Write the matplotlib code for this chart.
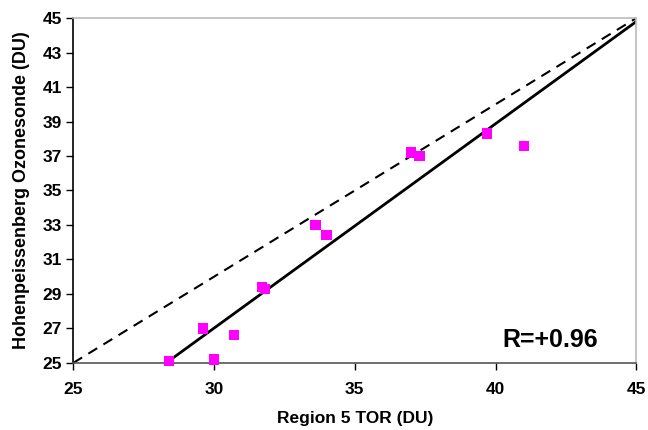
import numpy as np
import matplotlib.pyplot as plt

plt.rcParams['font.family'] = ['Liberation Sans', 'DejaVu Sans']
plt.rcParams['font.weight'] = 'bold'

# Region 5 TOR vs Hohenpeissenberg ozonesonde (DU)
tor = [28.4, 29.6, 30.0, 30.7, 31.7, 31.8, 33.6, 34.0, 37.0, 37.3, 39.7, 41.0]
sonde = [25.1, 27.0, 25.2, 26.6, 29.4, 29.3, 33.0, 32.4, 37.2, 37.0, 38.3, 37.6]

# regression line endpoints
fit_x = [28.3, 45.0]
fit_y = [25.0, 44.8]
one_to_one = [25, 45]

fig = plt.figure(figsize=(6.48, 4.30), dpi=100)
ax = fig.add_axes([0.113, 0.156, 0.869, 0.802])

ax.plot(one_to_one, one_to_one, color='black', lw=1.5, ls=(0, (5, 3.5)), zorder=2)
ax.plot(fit_x, fit_y, color='black', lw=2.0, zorder=2)
ax.scatter(tor, sonde, marker='s', s=55, color='#ff00ff', edgecolors='none', zorder=3, clip_on=False)

ax.set_xlim(25, 45)
ax.set_ylim(25, 45)
ax.set_xticks([25, 30, 35, 40, 45])
ax.set_yticks(np.arange(25, 46, 2))
ax.tick_params(axis='both', labelsize=12.5, direction='out', length=5, width=1)
ax.tick_params(axis='x', pad=9)
ax.tick_params(axis='y', pad=3)

ax.spines['left'].set_color('black')
ax.spines['bottom'].set_color('#555555')
ax.spines['top'].set_color('#bbbbbb')
ax.spines['right'].set_color('#bbbbbb')
for s in ax.spines.values():
    s.set_linewidth(1.2)

ax.set_xlabel('Region 5 TOR (DU)', fontsize=12.5, fontweight='bold', labelpad=10)
ax.set_ylabel('Hohenpeissenberg Ozonesonde (DU)', fontsize=13, fontweight='bold', labelpad=9)

ax.text(0.932, 0.067, 'R=+0.96', transform=ax.transAxes, ha='right', va='center',
        fontsize=18, fontweight='bold')

fig.savefig('out.png', dpi=100)
